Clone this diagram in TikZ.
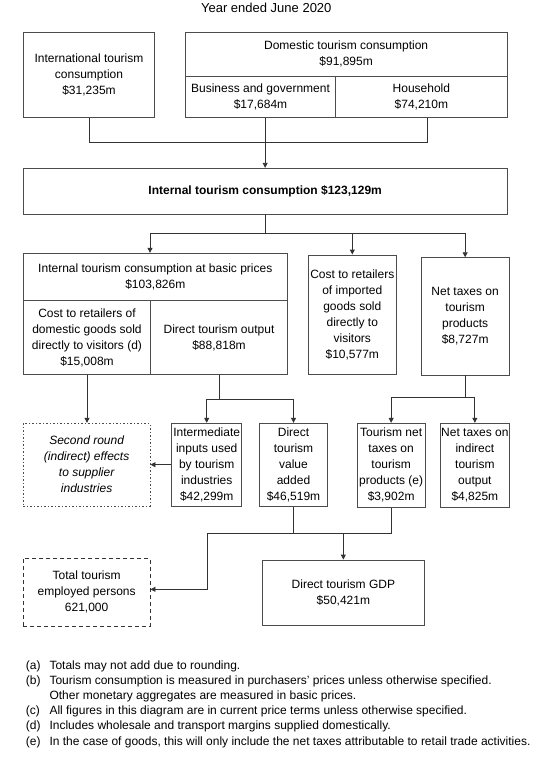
\documentclass[tikz,border=0pt]{standalone}
\usepackage{fontspec}
\setmainfont{Liberation Sans}
\usetikzlibrary{calc, positioning, arrows.meta}

\begin{document}
\begin{tikzpicture}[x=1pt, y=-1pt,
    every node/.style={font=\fontsize{12}{16}\selectfont, inner sep=0pt, align=center},
    box/.style={draw=black!70, line width=0.9pt},
    dotbox/.style={draw=black!70, line width=0.9pt, dash pattern=on 1.5pt off 2pt},
    dashbox/.style={draw=black!80, line width=0.9pt, dash pattern=on 4pt off 3pt},
    link/.style={draw=black!80, line width=0.9pt},
    arr/.style={link, -{Triangle[length=5pt,width=5pt]}}]
    \useasboundingbox (0,0) rectangle (540,767);
    \node (title) at (266.3,8.3) {\fontsize{13}{16}\selectfont Year ended June 2020};
    % top row
    \node[box, minimum width=131.4pt, minimum height=85.4pt] (intl) at (89,75) {International tourism\\consumption\\\$31,235m};
    \node[box, minimum width=321.7pt, minimum height=43.7pt] (dom) at (346.15,54.15) {Domestic tourism consumption\\\$91,895m};
    \node[box, minimum width=150.4pt, minimum height=41.7pt] (biz) at (260.5,96.85) {Business and government\\\$17,684m};
    \node[box, minimum width=171.3pt, minimum height=41.7pt] (hh) at (421.35,96.85) {Household\\\$74,210m};
    \node[box, minimum width=483.7pt, minimum height=45.7pt, font=\fontsize{12}{16}\selectfont\bfseries] (internal) at (265.15,191.15) {Internal tourism consumption \$123,129m};
    % second row
    \node[box, minimum width=264pt, minimum height=47.4pt] (basic) at (155.3,277) {Internal tourism consumption at basic prices\\\$103,826m};
    \node[box, minimum width=127.4pt, minimum height=73.6pt] (costdom) at (87,337.5) {Cost to retailers of\\domestic goods sold\\directly to visitors (d)\\\$15,008m};
    \node[box, minimum width=136.6pt, minimum height=73.6pt] (dirout) at (219,337.5) {Direct tourism output\\\$88,818m};
    \node[box, minimum width=88pt, minimum height=119.3pt] (costimp) at (352.3,314.65) {Cost to retailers\\of imported\\goods sold\\directly to\\visitors\\\$10,577m};
    \node[box, minimum width=88.3pt, minimum height=117.3pt] (nettax) at (465.15,316.35) {Net taxes on\\tourism\\products\\\$8,727m};
    % third row
    \node[dotbox, minimum width=126.7pt, minimum height=82.7pt, font=\fontsize{12}{16}\selectfont\itshape] (second) at (86.65,464.65) {Second round\\(indirect) effects\\to supplier\\industries};
    \node[box, minimum width=70pt, minimum height=82.7pt] (interm) at (206.7,464.65) {Intermediate\\inputs used\\by tourism\\industries\\\$42,299m};
    \node[box, minimum width=68.4pt, minimum height=83.4pt] (dva) at (293.5,465) {Direct\\tourism\\value\\added\\\$46,519m};
    \node[box, minimum width=67.7pt, minimum height=84pt] (tnt) at (391.15,465.3) {Tourism net\\taxes on\\tourism\\products (e)\\\$3,902m};
    \node[box, minimum width=68.3pt, minimum height=84pt] (ntind) at (474.85,465.3) {Net taxes on\\indirect\\tourism\\output\\\$4,825m};
    % bottom row
    \node[dashbox, minimum width=126.7pt, minimum height=67.7pt] (total) at (86.65,592.15) {Total tourism\\employed persons\\621,000};
    \node[box, minimum width=161.3pt, minimum height=65pt] (gdp) at (343.35,592.5) {Direct tourism GDP\\\$50,421m};
    % connectors
    \draw[link] (intl.south) -- ++(0,24.6) coordinate (j1) -| ([xshift=5.7pt]hh.south);
    \draw[arr] (biz.south -| internal.north) -- (internal.north);
    \draw[link] (internal.south) -- ++(0,19.3) coordinate (j2);
    \draw[arr] (j2) -| ([xshift=-5.3pt]basic.north);
    \draw[arr] (j2) -| (costimp.north);
    \draw[arr] (j2) -| (nettax.north);
    \draw[arr] (costdom.south) -- (costdom.south |- second.north);
    \draw[link] (dirout.south) -- ++(0,25) coordinate (j3);
    \draw[arr] (j3) -| (interm.north);
    \draw[arr] (j3) -| (dva.north);
    \draw[arr] (interm.west) -- (second.east);
    \draw[link] (nettax.south) -- ++(0,22.3) coordinate (j4);
    \draw[arr] (j4) -| (tnt.north);
    \draw[arr] (j4) -| (ntind.north);
    \coordinate (j5) at (207.7,533.3);
    \draw[link] (tnt.south) |- (j5);
    \draw[link] (dva.south) -- (dva.south |- j5);
    \draw[arr] (j5) |- ([yshift=2.8pt]total.east);
    \draw[arr] (gdp.north |- j5) -- (gdp.north);
    % footnotes
    \foreach \y/\l/\t [count=\i] in {665/(a)/{Totals may not add due to rounding.},
        680/(b)/{Tourism consumption is measured in purchasers’ prices unless otherwise specified.},
        695//{Other monetary aggregates are measured in basic prices.},
        710/(c)/{All figures in this diagram are in current price terms unless otherwise specified.},
        725/(d)/{Includes wholesale and transport margins supplied domestically.},
        741/(e)/{In the case of goods, this will only include the net taxes attributable to retail trade activities.}} {
        \node[anchor=base west] (fl\i) at (25.7,\y+4.3) {\l};
        \node[anchor=base west] (ft\i) at (49.3,\y+4.3) {\t};
    }
\end{tikzpicture}
\end{document}
